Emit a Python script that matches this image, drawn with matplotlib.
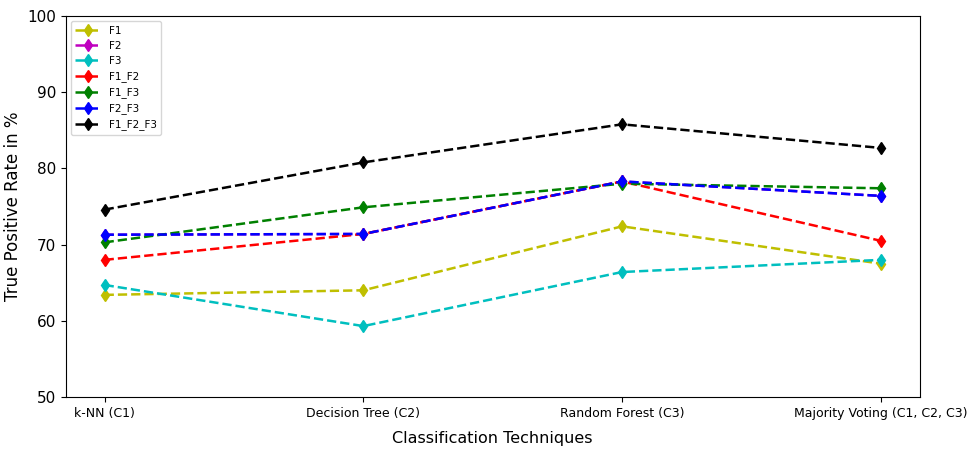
import matplotlib
matplotlib.use('Agg')
from matplotlib import pyplot as plt

# classification techniques on the x axis
techniques = ['k-NN (C1)', 'Decision Tree (C2)', 'Random Forest (C3)', 'Majority Voting (C1, C2, C3)']

# true positive rate (%) per feature set
f1 = [63.4, 64.0, 72.4, 67.5]
f2 = [71.3, 71.4, 78.3, 76.4]
f3 = [64.7, 59.3, 66.4, 68.0]
f1_f2 = [68.0, 71.4, 78.3, 70.5]
f1_f3 = [70.3, 74.9, 78.0, 77.4]
f2_f3 = [71.3, 71.4, 78.3, 76.4]
f1_f2_f3 = [74.6, 80.8, 85.8, 82.7]

series = [('F1', f1, 'y'), ('F2', f2, 'm'), ('F3', f3, 'c'),
          ('F1_F2', f1_f2, 'r'), ('F1_F3', f1_f3, 'g'),
          ('F2_F3', f2_f3, 'b'), ('F1_F2_F3', f1_f2_f3, 'k')]

fig = plt.figure(figsize=(9.68, 4.5), dpi=100)
ax = fig.add_axes([0.068, 0.118, 0.882, 0.846])

x = list(range(len(techniques)))
for name, vals, c in series:
    ax.plot(x, vals, '--', color=c, marker='d', markersize=6, linewidth=1.8, label=name)

ax.set_ylim(50, 100)
ax.set_xticks(x)
ax.set_xticklabels(techniques, fontsize=9)
ax.tick_params(axis='y', labelsize=11)
ax.set_ylabel('True Positive Rate in %', fontsize=12)
ax.set_xlabel('Classification Techniques', fontsize=11.5, labelpad=8)
ax.legend(loc='upper left', fontsize=7.5, handlelength=2.4)

fig.savefig('out.png', dpi=100)
